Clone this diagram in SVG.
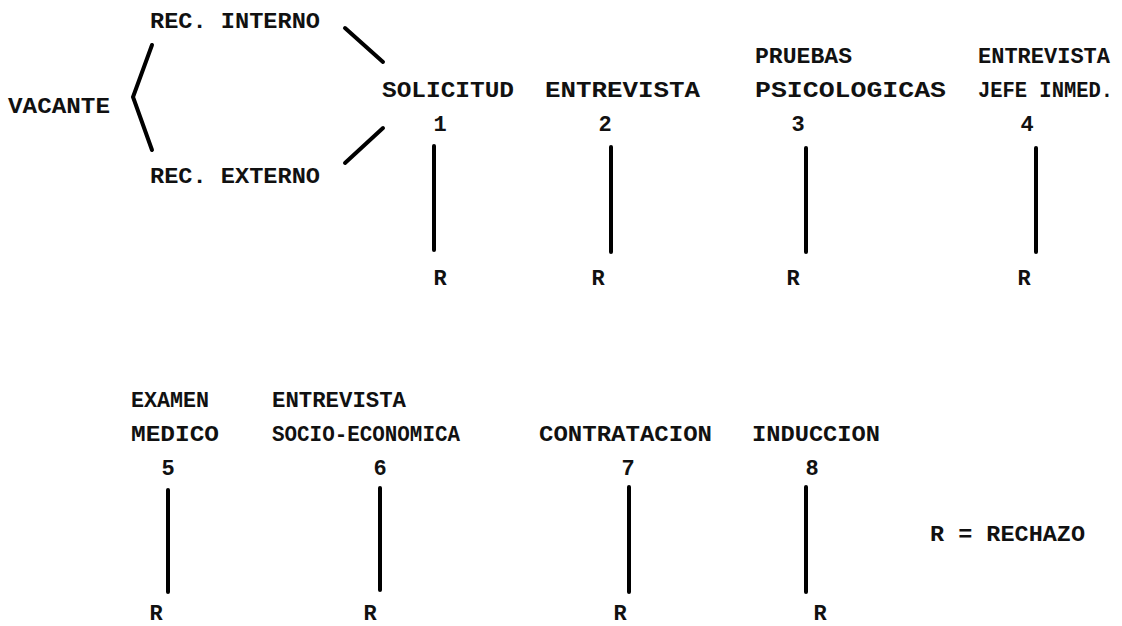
<svg xmlns="http://www.w3.org/2000/svg" width="1122" height="626" viewBox="0 0 1122 626">
<style>
text{font-family:"Liberation Mono","Courier New",monospace;font-weight:bold;font-size:22px;fill:#111}
.c{text-anchor:middle}
.ln{stroke:#000;stroke-width:4;stroke-linecap:round;fill:none}
</style>
<rect width="1122" height="626" fill="#fff"/>
<g id="vacante"><text x="8" y="113" textLength="102" lengthAdjust="spacingAndGlyphs">VACANTE</text></g>
<g id="rec-interno"><text x="150" y="28" textLength="170" lengthAdjust="spacingAndGlyphs">REC. INTERNO</text></g>
<g id="rec-externo"><text x="150" y="183" textLength="170" lengthAdjust="spacingAndGlyphs">REC. EXTERNO</text></g>
<g id="n1"><text x="382" y="97" textLength="132" lengthAdjust="spacingAndGlyphs">SOLICITUD</text><text class="c" x="440" y="131">1</text><text class="c" x="440" y="285">R</text></g>
<g id="n2"><text x="545" y="97" textLength="155" lengthAdjust="spacingAndGlyphs">ENTREVISTA</text><text class="c" x="605" y="131">2</text><text class="c" x="598" y="285">R</text></g>
<g id="n3"><text x="755" y="63" textLength="97" lengthAdjust="spacingAndGlyphs">PRUEBAS</text><text x="755" y="97" textLength="191" lengthAdjust="spacingAndGlyphs">PSICOLOGICAS</text><text class="c" x="798" y="131">3</text><text class="c" x="793" y="285">R</text></g>
<g id="n4"><text x="978" y="63" textLength="132" lengthAdjust="spacingAndGlyphs">ENTREVISTA</text><text x="978" y="97" textLength="135" lengthAdjust="spacingAndGlyphs">JEFE INMED.</text><text class="c" x="1027" y="131">4</text><text class="c" x="1024" y="285">R</text></g>
<g id="n5"><text x="131" y="407" textLength="78" lengthAdjust="spacingAndGlyphs">EXAMEN</text><text x="131" y="441" textLength="88" lengthAdjust="spacingAndGlyphs">MEDICO</text><text class="c" x="168" y="475">5</text><text class="c" x="156" y="620">R</text></g>
<g id="n6"><text x="272" y="407" textLength="134" lengthAdjust="spacingAndGlyphs">ENTREVISTA</text><text x="272" y="441" textLength="188" lengthAdjust="spacingAndGlyphs">SOCIO-ECONOMICA</text><text class="c" x="380" y="475">6</text><text class="c" x="370" y="620">R</text></g>
<g id="n7"><text x="539" y="441" textLength="173" lengthAdjust="spacingAndGlyphs">CONTRATACION</text><text class="c" x="628" y="475">7</text><text class="c" x="620" y="620">R</text></g>
<g id="n8"><text x="752" y="441" textLength="128" lengthAdjust="spacingAndGlyphs">INDUCCION</text><text class="c" x="812" y="475">8</text><text class="c" x="820" y="620">R</text></g>
<g id="legend"><text x="930" y="541" textLength="155" lengthAdjust="spacingAndGlyphs">R = RECHAZO</text></g>
<g id="connectors" class="ln">
<polyline class="ln" points="152,45 133,97 152,150"/>
<line class="ln" x1="345" y1="28" x2="383" y2="62"/>
<line class="ln" x1="345" y1="163" x2="383" y2="128"/>
<line class="ln" x1="434" y1="146" x2="434" y2="250"/>
<line class="ln" x1="611" y1="147" x2="611" y2="252"/>
<line class="ln" x1="806" y1="148" x2="806" y2="252"/>
<line class="ln" x1="1036" y1="148" x2="1036" y2="252"/>
<line class="ln" x1="168" y1="490" x2="168" y2="592"/>
<line class="ln" x1="380" y1="488" x2="380" y2="590"/>
<line class="ln" x1="629" y1="487" x2="629" y2="592"/>
<line class="ln" x1="806" y1="487" x2="806" y2="592"/>
</g>
</svg>
